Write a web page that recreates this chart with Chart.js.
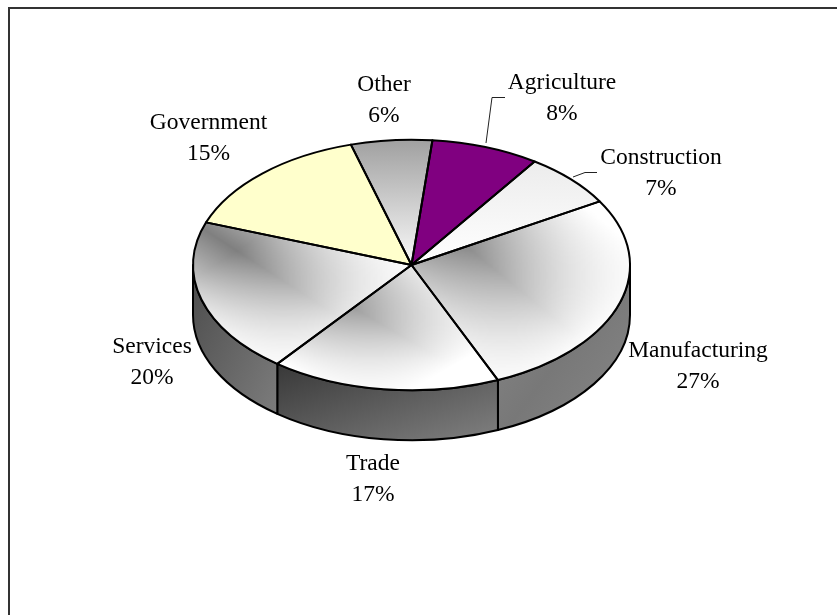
<!DOCTYPE html>
<html>
<head>
<meta charset="utf-8">
<title>Employment by sector</title>
<style>
  html, body { margin: 0; padding: 0; background: #fff; }
  canvas { display: block; }
</style>
<script src="https://cdn.jsdelivr.net/npm/chart.js@4/dist/chart.umd.min.js"></script>
</head>
<body>
<canvas id="canvas" width="837" height="615"></canvas>
<script>
var categories = ['Agriculture', 'Construction', 'Manufacturing', 'Trade', 'Services', 'Government', 'Other'];
var shares = [8, 7, 27, 17, 20, 15, 6];

// label centre x and first baseline y, one entry per category
var labelSpots = [[562, 89], [661, 164], [698, 357], [373, 470], [152, 353], [208.5, 129], [384, 91]];
// thin connector lines for the two labels that sit away from their slice
var leaders = [
  [[486, 143], [492, 97.5], [505, 97.5]],
  [[573, 177], [585, 172.5], [597, 172.5]]
];

var squash = 0.5734;   // how flat the disc is drawn
var depth = 50;        // height of the disc wall
var sliceFills = [
  { color: '#800080' },
  { vertical: ['#ececec', '#ffffff'] },
  { shaded: true },
  { shaded: true },
  { shaded: true },
  { color: '#ffffcc' },
  { vertical: ['#a0a0a0', '#fafafa'] }
];
var wallFills = [null, null, ['#888888', '#787878', '#888888'], ['#383838', '#808080'], ['#4c4c4c', '#808080'], null, null];

function addStops(gradient, stops) {
  stops.forEach(function(color, n){
    gradient.addColorStop(n / (stops.length - 1), color);
  });
  return gradient;
}

// bounding box of a slice, before flattening
function sliceBox(arc) {
  var xs = [arc.x, arc.x + arc.outerRadius * Math.cos(arc.startAngle), arc.x + arc.outerRadius * Math.cos(arc.endAngle)];
  var ys = [arc.y, arc.y + arc.outerRadius * Math.sin(arc.startAngle), arc.y + arc.outerRadius * Math.sin(arc.endAngle)];
  for (var q = -1; q <= 4; q++) {
    var a = q * Math.PI / 2;
    if (a > arc.startAngle && a < arc.endAngle) {
      xs.push(arc.x + arc.outerRadius * Math.cos(a));
      ys.push(arc.y + arc.outerRadius * Math.sin(a));
    }
  }
  return {
    left: Math.min.apply(null, xs), right: Math.max.apply(null, xs),
    top: Math.min.apply(null, ys), bottom: Math.max.apply(null, ys)
  };
}

// gray band along the box diagonal, washing out to white towards the bottom right
var shadeTile = null;
var tileSize = 128;
function getShadeTile() {
  if (shadeTile) return shadeTile;
  shadeTile = document.createElement('canvas');
  shadeTile.width = tileSize;
  shadeTile.height = tileSize;
  var tctx = shadeTile.getContext('2d');
  var img = tctx.createImageData(tileSize, tileSize);
  for (var py = 0; py < tileSize; py++) {
    for (var px = 0; px < tileSize; px++) {
      var u = px / (tileSize - 1), v = py / (tileSize - 1);
      var band = 128 + 127 * Math.min(1, Math.abs(v - u) * 1.3);
      var wash = Math.min(1, Math.max(0, ((u + v) / 2 - 0.2) / 0.6));
      var level = band + (255 - band) * wash;
      var at = (py * tileSize + px) * 4;
      img.data[at] = img.data[at + 1] = img.data[at + 2] = level;
      img.data[at + 3] = 255;
    }
  }
  tctx.putImageData(img, 0, 0);
  return shadeTile;
}

function sliceFill(ctx, arc, fill) {
  if (fill.color) return fill.color;
  var box = sliceBox(arc);
  if (fill.vertical) {
    return addStops(ctx.createLinearGradient(0, box.top, 0, box.bottom), fill.vertical);
  }
  var pattern = ctx.createPattern(getShadeTile(), 'repeat');
  pattern.setTransform(new DOMMatrix()
    .translate(box.left, box.top)
    .scale((box.right - box.left) / tileSize, (box.bottom - box.top) / tileSize));
  return pattern;
}

// gradient whose bands lie along the bottom-left to top-right diagonal of a box
function wallGradient(ctx, x0, y0, x1, y1, stops) {
  var w = x1 - x0, h = y1 - y0;
  var len = Math.sqrt(w * w + h * h);
  var half = w * h / len;
  var mx = (x0 + x1) / 2, my = (y0 + y1) / 2;
  var nx = h / len, ny = w / len;
  return addStops(ctx.createLinearGradient(mx - nx * half, my - ny * half, mx + nx * half, my + ny * half), stops);
}

var pie3d = {
  id: 'pie3d',
  beforeDraw: function(chart){
    // frame along the top and left edges
    var ctx = chart.ctx;
    ctx.save();
    ctx.strokeStyle = '#333';
    ctx.lineWidth = 2;
    ctx.beginPath();
    ctx.moveTo(9, 615);
    ctx.lineTo(9, 8);
    ctx.lineTo(837, 8);
    ctx.stroke();
    ctx.restore();
  },
  beforeDatasetsDraw: function(chart){
    var ctx = chart.ctx;
    var arcs = chart.getDatasetMeta(0).data;
    ctx.save();
    ctx.strokeStyle = '#000';
    ctx.lineWidth = 2;
    ctx.lineJoin = 'round';
    arcs.forEach(function(arc, i){
      // only the part of a slice facing the viewer shows a wall
      var from = Math.max(arc.startAngle, 0);
      var to = Math.min(arc.endAngle, Math.PI);
      if (from >= to || !wallFills[i]) return;
      var r = arc.outerRadius;
      var ry = r * squash;
      var x0 = arc.x + r * Math.min(Math.cos(from), Math.cos(to));
      var x1 = arc.x + r * Math.max(Math.cos(from), Math.cos(to));
      var y0 = arc.y + ry * Math.min(Math.sin(from), Math.sin(to));
      var y1 = arc.y + ry + depth;
      ctx.beginPath();
      ctx.ellipse(arc.x, arc.y, r, ry, 0, from, to);
      ctx.ellipse(arc.x, arc.y + depth, r, ry, 0, to, from, true);
      ctx.closePath();
      ctx.fillStyle = wallGradient(ctx, x0, y0, x1, y1, wallFills[i]);
      ctx.fill();
      ctx.stroke();
    });
    ctx.restore();
  },
  beforeDatasetDraw: function(chart){
    var ctx = chart.ctx;
    var arcs = chart.getDatasetMeta(0).data;
    var cy = arcs[0].y;
    ctx.save();
    ctx.translate(0, cy);
    ctx.scale(1, squash);
    ctx.translate(0, -cy);
    arcs.forEach(function(arc, i){
      arc.options = Object.assign({}, arc.options, { backgroundColor: sliceFill(ctx, arc, sliceFills[i]) });
    });
  },
  afterDatasetDraw: function(chart){
    chart.ctx.restore();
  },
  afterDatasetsDraw: function(chart){
    var ctx = chart.ctx;
    var arcs = chart.getDatasetMeta(0).data;
    ctx.save();
    ctx.strokeStyle = '#000';
    ctx.lineWidth = 2;
    ctx.lineJoin = 'round';
    arcs.forEach(function(arc){
      ctx.beginPath();
      ctx.moveTo(arc.x, arc.y);
      ctx.ellipse(arc.x, arc.y, arc.outerRadius, arc.outerRadius * squash, 0, arc.startAngle, arc.endAngle);
      ctx.closePath();
      ctx.stroke();
    });

    ctx.strokeStyle = '#222';
    ctx.lineWidth = 1;
    leaders.forEach(function(line){
      ctx.beginPath();
      line.forEach(function(p, n){
        if (n === 0) ctx.moveTo(p[0], p[1]); else ctx.lineTo(p[0], p[1]);
      });
      ctx.stroke();
    });

    ctx.fillStyle = '#000';
    ctx.font = '23.5px "Liberation Serif"';
    ctx.textAlign = 'center';
    ctx.textBaseline = 'alphabetic';
    categories.forEach(function(name, i){
      ctx.fillText(name, labelSpots[i][0], labelSpots[i][1]);
      ctx.fillText(shares[i] + '%', labelSpots[i][0], labelSpots[i][1] + 31);
    });
    ctx.restore();
  }
};

var data = {
  labels: categories,
  datasets: [{
    data: shares,
    backgroundColor: '#ffffff',
    borderWidth: 0,
    hoverOffset: 0
  }]
};

var options = {
  responsive: false,
  animation: false,
  rotation: 5.5,
  layout: { padding: { left: 193, right: 207, top: 46.5, bottom: 131.5 } },
  events: [],
  plugins: {
    legend: { display: false },
    tooltip: { enabled: false }
  }
};

var ctx = document.getElementById('canvas').getContext('2d');
var myChart = new Chart(ctx, {
  type: 'pie',
  data: data,
  options: options,
  plugins: [pie3d]
});
</script>
</body>
</html>
